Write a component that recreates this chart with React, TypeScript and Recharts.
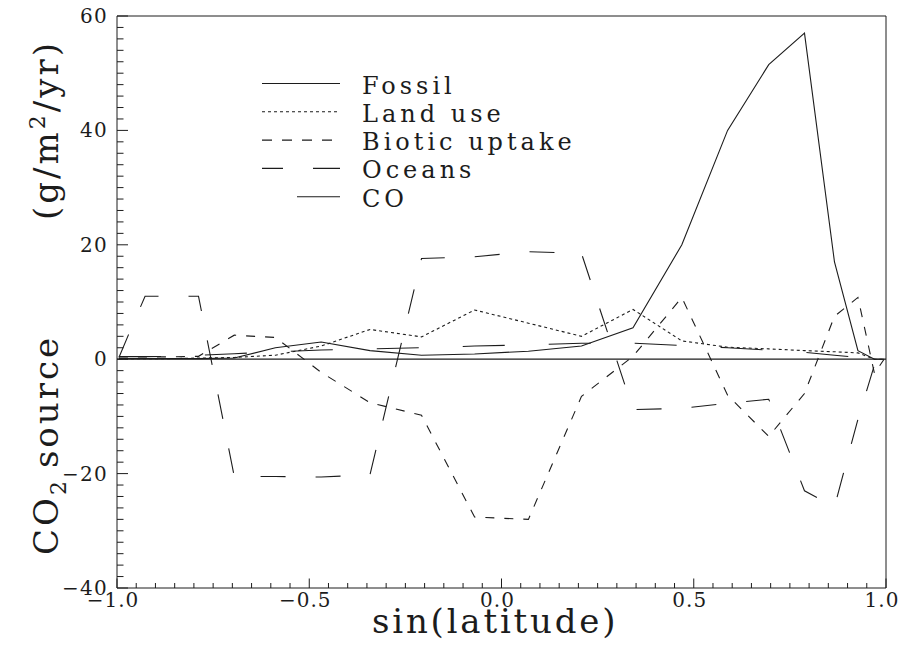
import React from "react";
import { LineChart, Line, XAxis, YAxis, ReferenceLine, Legend } from "recharts";

// band centres, sin(latitude)
const sinLatitude = [
  -0.995, -0.97, -0.927, -0.866, -0.788, -0.695, -0.588, -0.469, -0.342, -0.208, -0.07,
  0.07, 0.208, 0.342, 0.469, 0.588, 0.695, 0.788, 0.866, 0.927, 0.97, 0.995,
];

// g/m2/yr
const fossil = [
  0.1, 0.1, 0.1, 0.1, 0.1, 0.2, 2.0, 3.0, 1.5, 0.7, 0.9,
  1.4, 2.3, 5.5, 20.0, 40.0, 51.5, 57.0, 17.0, 1.5, 0.0, 0.0,
];
const landUse = [
  0.1, 0.1, 0.1, 0.1, 0.2, 0.3, 0.7, 2.3, 5.2, 3.9, 8.6,
  6.3, 4.0, 8.7, 3.2, 2.1, 1.8, 1.5, 1.3, 1.1, 0.0, 0.0,
];
const bioticUptake = [
  0.4, 0.4, 0.4, 0.4, 0.5, 4.2, 3.8, -2.3, -7.6, -9.8, -27.6,
  -28.0, -6.5, 0.5, 10.8, -6.3, -13.5, -6.0, 7.5, 10.8, -2.5, 0.0,
];
const oceans = [
  0.3, 4.3, 11.0, 11.0, 11.0, -20.5, -20.5, -20.6, -20.2, 17.6, 17.9,
  18.8, 18.5, -8.8, -8.6, -7.7, -7.0, -23.0, -25.8, -10.5, -1.0, 0.0,
];
const carbonMonoxide = [
  0.45, 0.45, 0.45, 0.5, 0.7, 0.95, 1.3, 1.6, 1.8, 2.0, 2.3,
  2.5, 2.8, 2.8, 2.4, 2.0, 1.6, 1.2, 0.7, 0.3, 0.0, 0.0,
];

const xMajorTicks = [-1, -0.5, 0, 0.5, 1];
const yMajorTicks = [-40, -20, 0, 20, 40, 60];
const xTicks = Array.from({ length: 41 }, (_, i) => Math.round((-1 + i * 0.05) * 100) / 100);
const yTicks = Array.from({ length: 51 }, (_, i) => -40 + i * 2);

const data = sinLatitude.map((x, i) => ({
  x,
  fossil: fossil[i],
  landUse: landUse[i],
  biotic: bioticUptake[i],
  oceans: oceans[i],
  co: carbonMonoxide[i],
}));

const series = [
  { key: "fossil", name: "Fossil", dash: undefined, legendDash: undefined },
  { key: "landUse", name: "Land use", dash: "3 3", legendDash: "3 3" },
  { key: "biotic", name: "Biotic uptake", dash: "9 10", legendDash: "10 10" },
  { key: "oceans", name: "Oceans", dash: "25 30", legendDash: "21 30 27 100" },
  { key: "co", name: "CO", dash: "42 44", legendDash: "0 35 43 100" },
];

const FONT = "'DejaVu Serif', serif";
const INK = "#1c1c1c";

const isMajor = (v: number, list: number[]) => list.some((m) => Math.abs(m - v) < 1e-6);
const minus = (v: number, s: string) => (v < 0 ? "\u2212" : "") + s;

const XTick = ({ x, y, payload }: any) => {
  const v = payload.value;
  const major = isMajor(v, xMajorTicks);
  return (
    <g>
      <line x1={x} x2={x} y1={y} y2={y - (major ? 9.5 : 5)} stroke={INK} strokeWidth={1} />
      {major && (
        <text x={x - 4} y={y + 19} textAnchor="middle" fontFamily={FONT} fontSize={20} letterSpacing={1} fill={INK}>
          {minus(v, Math.abs(v).toFixed(1))}
        </text>
      )}
    </g>
  );
};

const YTick = ({ x, y, payload }: any) => {
  const v = payload.value;
  const major = isMajor(v, yMajorTicks);
  return (
    <g>
      <line x1={x} x2={x + (major ? 11 : 6.5)} y1={y} y2={y} stroke={INK} strokeWidth={1} />
      {major && (
        <text x={x - 9} y={y + 7} textAnchor="end" fontFamily={FONT} fontSize={20} letterSpacing={1.3} fill={INK}>
          {minus(v, String(Math.abs(v)))}
        </text>
      )}
    </g>
  );
};

const XLabel = ({ viewBox }: any) => (
  <text
    x={viewBox.x + 255}
    y={viewBox.y + 45}
    textAnchor="start"
    fontFamily={FONT}
    fontSize={34}
    letterSpacing={2.8}
    fill={INK}
  >
    sin(latitude)
  </text>
);

// y title: "CO2 source" from the bottom, "(g/m2/yr)" up at the top, as in the figure
const YLabel = ({ viewBox }: any) => {
  const bx = 58;
  const lowY = viewBox.y + viewBox.height - 33;
  const highY = viewBox.y + 24;
  const common = { fontFamily: FONT, fontSize: 34, letterSpacing: 3, fill: INK };
  return (
    <g>
      <text x={bx} y={lowY} transform={`rotate(-90 ${bx} ${lowY})`} textAnchor="start" {...common}>
        CO
        <tspan dy={8} fontSize={22}>2</tspan>
        <tspan dy={-8} dx={10}>source</tspan>
      </text>
      <text x={bx} y={highY} transform={`rotate(-90 ${bx} ${highY})`} textAnchor="end" {...common}>
        (g/m
        <tspan dy={-13} fontSize={22}>2</tspan>
        <tspan dy={13}>/yr)</tspan>
      </text>
    </g>
  );
};

const LegendBox = () => (
  <svg width={380} height={160}>
    {series.map((s, i) => (
      <g key={s.key}>
        <line
          x1={0}
          x2={78}
          y1={15.5 + i * 28.3}
          y2={15.5 + i * 28.3}
          stroke={INK}
          strokeWidth={1.1}
          strokeDasharray={s.legendDash}
        />
        <text x={100} y={25.5 + i * 28.3} fontFamily={FONT} fontSize={24} letterSpacing={4} fill={INK}>
          {s.name}
        </text>
      </g>
    ))}
  </svg>
);

export default function App() {
  return (
    <div style={{ position: "absolute", left: 0, top: 0, width: 903, height: 653 }}>
      <LineChart width={903} height={653} data={data} margin={{ top: 16, right: 17, bottom: 0, left: 0 }}>
        <XAxis
          type="number"
          dataKey="x"
          domain={[-1, 1]}
          ticks={xTicks}
          interval={0}
          tick={<XTick />}
          tickLine={false}
          tickSize={0}
          tickMargin={0}
          height={65}
          axisLine={{ stroke: INK }}
          label={XLabel}
        />
        <YAxis
          type="number"
          domain={[-40, 60]}
          ticks={yTicks}
          interval={0}
          tick={<YTick />}
          tickLine={false}
          tickSize={0}
          tickMargin={0}
          width={117}
          axisLine={{ stroke: INK }}
          label={YLabel}
        />
        <ReferenceLine y={0} stroke={INK} strokeWidth={1.2} />
        <ReferenceLine y={60} stroke={INK} strokeWidth={1} />
        <ReferenceLine x={1} stroke={INK} strokeWidth={1} />
        {series.map((s) => (
          <Line
            key={s.key}
            type="linear"
            dataKey={s.key}
            name={s.name}
            stroke={INK}
            strokeWidth={1.1}
            strokeDasharray={s.dash}
            dot={false}
            activeDot={false}
            isAnimationActive={false}
          />
        ))}
        <Legend
          verticalAlign="middle"
          align="center"
          layout="horizontal"
          content={<LegendBox />}
          wrapperStyle={{ left: 262, top: 68, width: 380, height: 160 }}
        />
      </LineChart>
    </div>
  );
}
